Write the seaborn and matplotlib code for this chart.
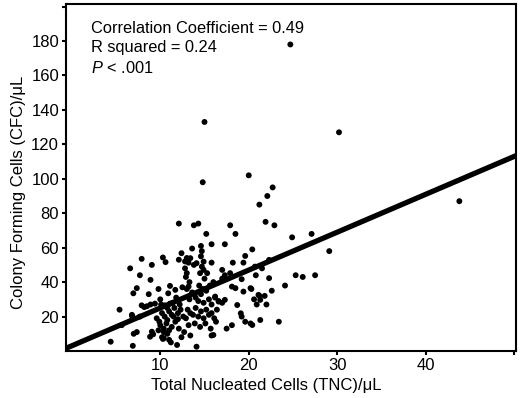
import matplotlib
matplotlib.use("Agg")
import matplotlib.pyplot as plt
import seaborn as sns
import pandas as pd

# ---- data ----
tnc = [24.7, 15.0, 14.8, 20.0, 30.2, 43.8, 22.7, 22.1, 21.2, 21.9, 22.9, 24.9, 27.1, 29.1,
       20.4, 20.8, 21.5, 25.3, 26.1, 27.5, 20.3, 22.6, 24.1, 20.6, 21.2, 21.8, 20.9, 22.0,
       21.3, 23.4, 20.2,
       12.1, 13.8, 14.3, 15.2, 17.9, 18.5, 13.6, 14.6, 15.8, 17.3, 14.7, 14.6,
       7.9, 10.3, 10.6, 12.1, 6.6, 9.05, 7.7, 8.9, 11.1, 7.35, 9.8, 6.96, 8.7, 10.9, 10.0,
       7.9, 8.2, 8.5, 8.9, 9.4, 10.1, 10.5, 11.1, 11.9, 5.4, 6.8, 5.65, 4.4, 6.9, 7.0, 7.35,
       8.85, 9.2, 10.0, 10.4, 10.7, 11.3, 11.7, 11.5, 12.0, 10.2, 10.3, 10.8, 11.0, 11.9,
       12.4, 13.4, 13.0, 13.2, 12.8, 12.8, 13.0, 13.8, 14.1, 14.9, 14.7, 14.9, 14.5, 15.3,
       15.8, 17.0, 17.9, 18.2, 19.6, 19.4, 20.7, 22.3, 22.3, 19.2, 17.3, 17.0, 18.5, 18.1,
       19.4, 20.2, 21.1, 21.3, 18.7, 19.1, 19.2, 19.6, 20.4, 16.2, 16.6, 17.3, 11.7, 13.2,
       7.7, 6.8, 9.05, 16.0, 14.1, 10.4,
       9.6, 9.9, 10.2, 10.5, 10.8, 11.0, 11.3, 11.6, 12.0, 12.3, 12.6, 12.9, 13.1, 13.4,
       13.7, 14.0, 14.3, 14.6, 14.9, 15.2, 15.5, 15.8, 16.1, 16.4, 13.3, 13.6, 14.0, 14.3,
       14.6, 14.9, 15.2, 15.5, 15.8, 16.2, 16.6, 17.0, 13.0, 12.5, 14.4, 14.8, 15.6, 16.0,
       15.0, 12.9, 13.3, 11.8, 11.4, 10.8, 12.2, 9.8, 10.4, 11.0, 12.1, 12.7, 13.2, 13.9,
       14.5, 15.1, 15.7, 16.3, 12.4, 13.4, 15.8, 11.2, 17.5, 18.1]
cfc = [178, 133, 98, 102, 127, 87, 95, 90, 85, 75, 73, 66, 68, 58,
       59, 44, 48, 44, 43, 44, 36, 35, 38, 30, 32, 32, 27, 27,
       18, 17, 16,
       74, 73, 74, 68, 73, 68, 59.5, 61, 62, 62, 58, 55,
       53.5, 54.3, 51.6, 53, 48, 50, 44, 41.3, 37.8, 36.5, 36, 33.5, 33, 33.5, 30,
       26.5, 25.5, 26, 27, 27.5, 27, 26.5, 27.5, 29.5, 24, 20.5, 15, 5.4, 3, 10, 11,
       8.3, 9.7, 15, 13, 16, 14, 17, 20, 18.5, 8, 7, 10, 6.5, 3.5,
       56.8, 53.9, 54, 51.3, 52, 48, 45.2, 50, 51, 51.9, 49, 47.1, 45.2, 45.2,
       51.3, 47.1, 45.2, 51.3, 55.2, 51.3, 49, 52.9, 42.3, 41.7, 44, 42, 36.5, 37.4,
       34.5, 36.5, 32.6, 29.7, 26.7, 21.9, 20, 17, 15.1, 31.6, 28.7, 29.7, 35.5, 37.4,
       20, 21, 11.2, 9.3, 2.5, 7.4,
       19, 17, 22, 20, 18, 23, 21, 25, 22, 24, 20, 19, 24, 22,
       21, 25, 20, 23, 19, 24, 21, 22, 19, 24, 30, 34, 31, 29,
       33, 28, 35, 30, 27, 31, 29, 28, 36, 37, 38, 36, 38, 40,
       42, 43, 40, 31, 28, 25, 27, 12, 11, 12, 13, 11, 15, 16,
       14, 16, 13, 17, 8, 9, 9, 5, 13, 15]
fit_intercept = [3.0]
fit_slope = [2.2]
x_ticks = [10, 20, 30, 40, 50]
x_ticklabels = ["10", "20", "30", "40", ""]
y_ticks = [20, 40, 60, 80, 100, 120, 140, 160, 180, 200]
y_ticklabels = ["20", "40", "60", "80", "100", "120", "140", "160", "180", ""]
stats_lines = ["Correlation Coefficient = 0.49", "R squared = 0.24", "$\\it{P}$ < .001"]

df = pd.DataFrame({"TNC": tnc, "CFC": cfc})

sns.set_style("ticks")
plt.rcParams["font.family"] = ["Liberation Sans", "DejaVu Sans"]
plt.rcParams["mathtext.fontset"] = "custom"
plt.rcParams["mathtext.it"] = "Liberation Sans:italic"
plt.rcParams["mathtext.rm"] = "Liberation Sans"
plt.rcParams["text.color"] = "black"
plt.rcParams["axes.labelcolor"] = "black"
plt.rcParams["xtick.color"] = "black"
plt.rcParams["ytick.color"] = "black"

fig = plt.figure(figsize=(5.2, 3.98), dpi=100)
ax = fig.add_axes([66 / 520, 47 / 398, 450 / 520, 347 / 398])

sns.scatterplot(data=df, x="TNC", y="CFC", ax=ax, color="black", s=18,
                edgecolor="none", linewidth=0, zorder=3)
ax.axline((0, fit_intercept[0]), slope=fit_slope[0], color="black", lw=3.8,
          solid_capstyle="butt", zorder=2)

ax.set_xlim(-0.65, 50.2)
ax.set_ylim(0, 201.5)
ax.set_xticks(x_ticks)
ax.set_xticklabels(x_ticklabels)
ax.set_yticks(y_ticks)
ax.set_yticklabels(y_ticklabels)
ax.tick_params(axis="both", direction="out", length=3, width=1.5, labelsize=12,
               colors="black", labelcolor="black", pad=2)

for sp in ax.spines.values():
    sp.set_visible(True)
    sp.set_linewidth(1.5)
    sp.set_color("black")

ax.set_xlabel("Total Nucleated Cells (TNC)/μL", fontsize=12, color="black")
ax.set_ylabel("Colony Forming Cells (CFC)/μL", fontsize=12, color="black")
ax.xaxis.set_label_coords(0.446, -0.078)
ax.yaxis.set_label_coords(-0.089, 0.458)

for i, line in enumerate(stats_lines):
    ax.text(0.056, 0.95 - i * 0.055, line, transform=ax.transAxes,
            fontsize=11.8, va="top", ha="left", color="black")

fig.savefig("out.png", dpi=100)
